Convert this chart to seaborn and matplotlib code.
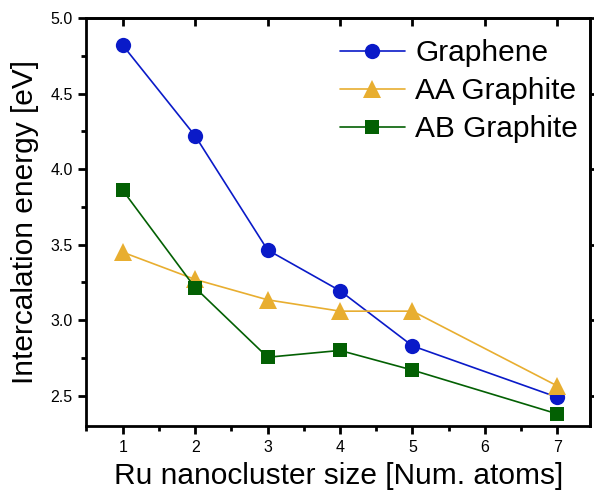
import matplotlib
matplotlib.use("Agg")
import matplotlib.pyplot as plt
import seaborn as sns
import pandas as pd
from matplotlib.ticker import MultipleLocator

sizes = [1, 2, 3, 4, 5, 7]
graphene = [4.82, 4.22, 3.465, 3.195, 2.83, 2.49]
aa_graphite = [3.45, 3.27, 3.135, 3.06, 3.06, 2.565]
ab_graphite = [3.86, 3.215, 2.755, 2.80, 2.67, 2.38]
series_names = ["Graphene", "AA Graphite", "AB Graphite"]
x_ticks = [1, 2, 3, 4, 5, 6, 7]

sns.set_theme(style="ticks")
plt.rcParams["font.family"] = ["Liberation Sans", "DejaVu Sans"]
plt.rcParams["text.color"] = "black"
plt.rcParams["axes.labelcolor"] = "black"
plt.rcParams["xtick.color"] = "black"
plt.rcParams["ytick.color"] = "black"

df = pd.DataFrame({
    "size": sizes * 3,
    "energy": graphene + aa_graphite + ab_graphite,
    "series": [series_names[0]] * 6 + [series_names[1]] * 6 + [series_names[2]] * 6,
})

fig = plt.figure(figsize=(5.94, 4.93), dpi=100)
ax = fig.add_axes([0.1456, 0.1359, 0.8476, 0.8276])

colors = {"Graphene": "#0A1AC8", "AA Graphite": "#E8AE30", "AB Graphite": "#036003"}
markers = {"Graphene": "o", "AA Graphite": "^", "AB Graphite": "s"}
msizes = {"Graphene": 11, "AA Graphite": 13, "AB Graphite": 10.5}

for name in series_names:
    sub = df[df["series"] == name]
    sns.lineplot(data=sub, x="size", y="energy", ax=ax, color=colors[name],
                 marker=markers[name], markersize=msizes[name],
                 markeredgewidth=0, linewidth=1.2, label=name)

ax.set_xlim(0.5, 7.45)
ax.set_ylim(2.3, 5.0)
ax.set_xticks(x_ticks)
ax.set_xticklabels([str(t) for t in x_ticks])
ax.yaxis.set_major_locator(MultipleLocator(0.5))
ax.xaxis.set_minor_locator(MultipleLocator(0.5))
ax.yaxis.set_minor_locator(MultipleLocator(0.25))
ax.yaxis.set_major_formatter(plt.FormatStrFormatter("%.1f"))

for s in ax.spines.values():
    s.set_linewidth(2.0)
    s.set_color("black")

ax.tick_params(axis="both", which="major", direction="out", length=6, width=2,
               labelsize=11.5, colors="black", pad=4)
ax.tick_params(axis="both", which="minor", direction="out", length=3.5, width=2)

top = ax.secondary_xaxis("top")
top.set_xticks(x_ticks)
top.tick_params(direction="in", length=6, width=2, labeltop=False)
top.spines["top"].set_linewidth(2.0)
right = ax.secondary_yaxis("right")
right.set_yticks([2.5, 3.0, 3.5, 4.0, 4.5, 5.0])
right.tick_params(direction="out", length=6, width=2, labelright=False)
right.spines["right"].set_linewidth(2.0)

ax.set_xlabel("Ru nanocluster size [Num. atoms]", fontsize=21.5, labelpad=5)
ax.set_ylabel("Intercalation energy [eV]", fontsize=21.5, labelpad=8)

leg = ax.legend(loc="upper right", frameon=False, fontsize=21.5, handlelength=2.2,
                handletextpad=0.33, labelspacing=0.33, borderaxespad=0.0,
                bbox_to_anchor=(1.0, 0.977))
for t in leg.get_texts():
    t.set_color("black")

fig.savefig("out.png", dpi=100)
